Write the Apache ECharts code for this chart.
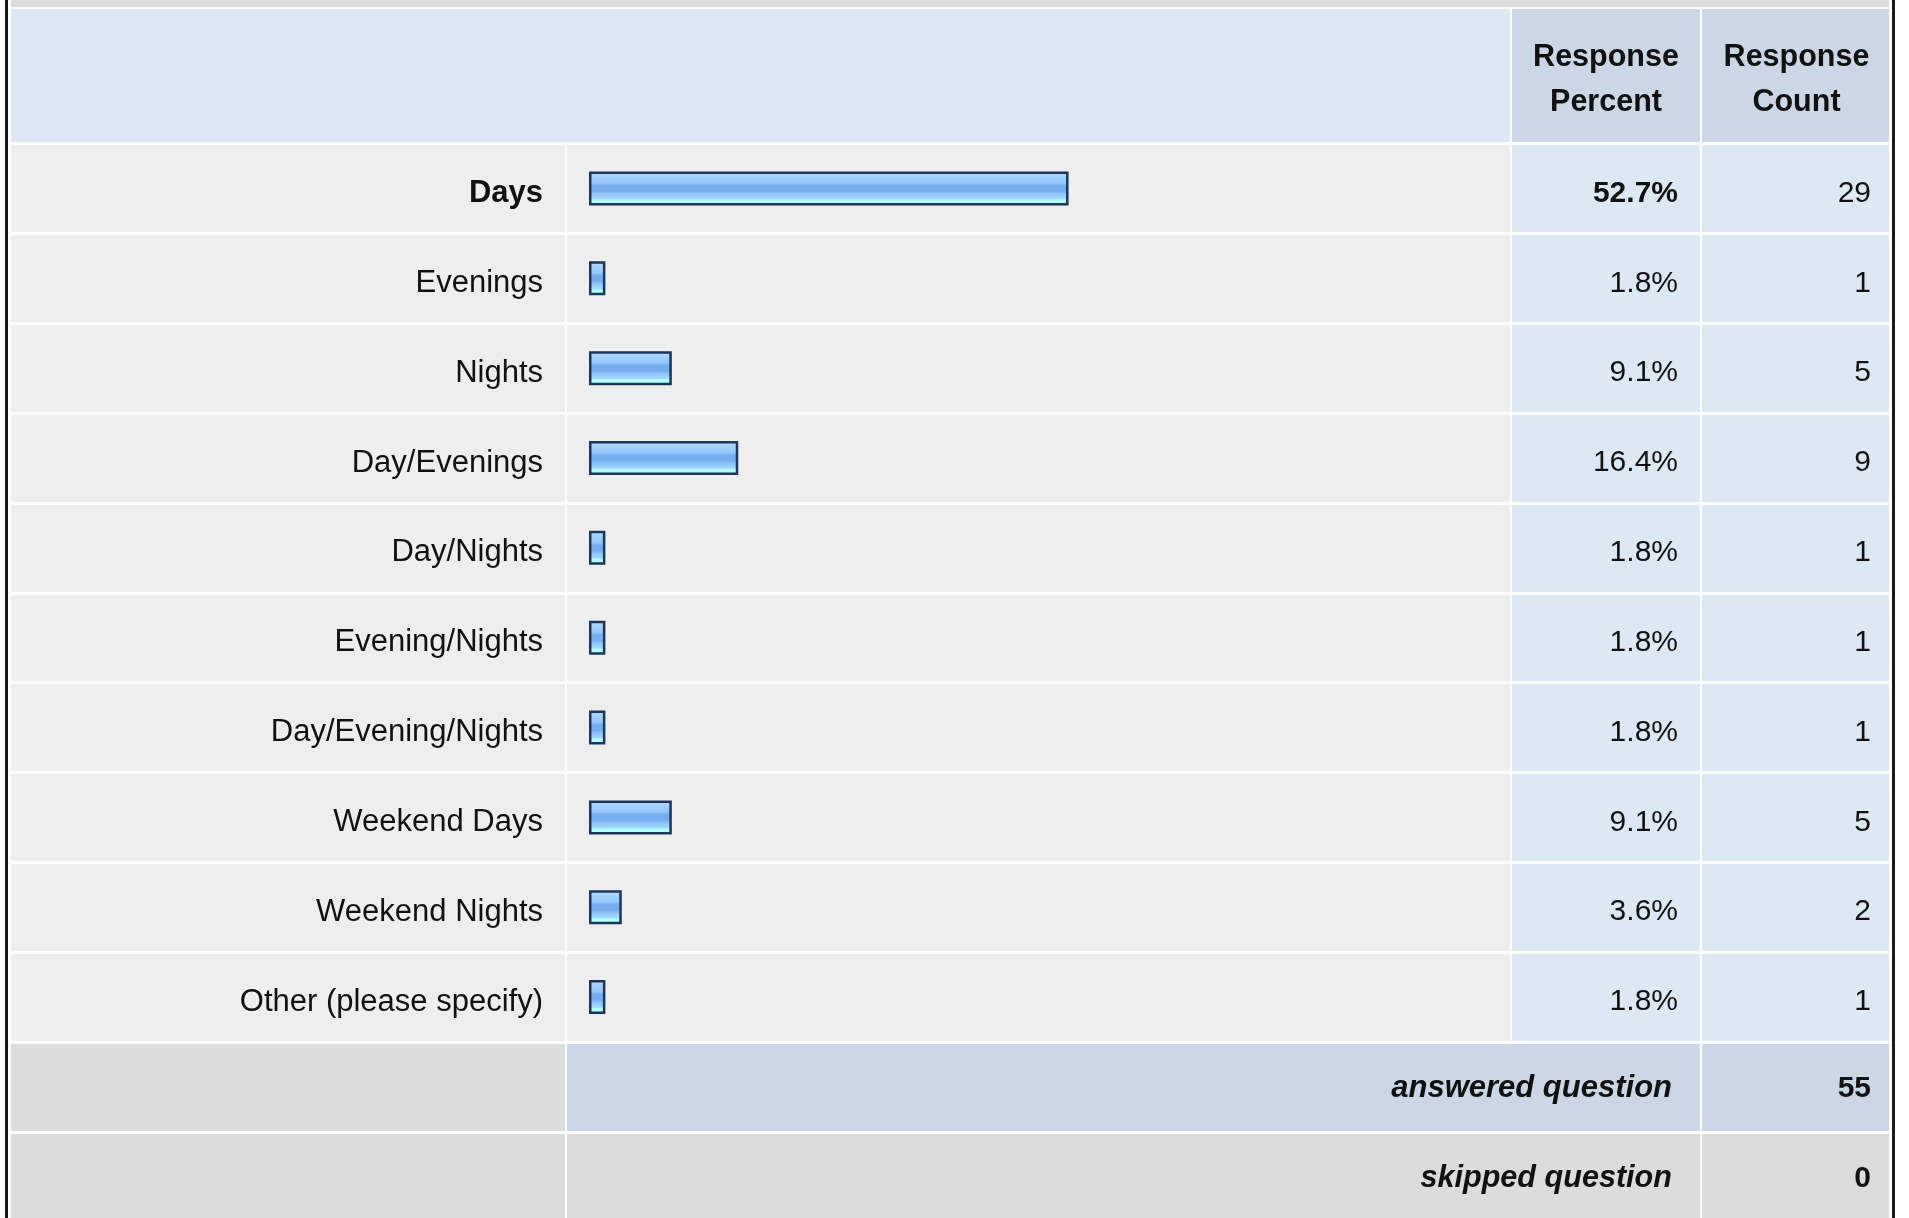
<!DOCTYPE html>
<html>
<head>
<meta charset="utf-8">
<title>Response table</title>
<script src="https://cdn.jsdelivr.net/npm/echarts@6/dist/echarts.min.js"></script>
<style>
    html, body { margin: 0; padding: 0; background: #fff; }
    #main { width: 1909px; height: 1218px; }
</style>
</head>
<body>
<div id="main"></div>
<script>
// answer choices, top to bottom
var categories = ['Days', 'Evenings', 'Nights', 'Day/Evenings', 'Day/Nights', 'Evening/Nights',
    'Day/Evening/Nights', 'Weekend Days', 'Weekend Nights', 'Other (please specify)'];
var percents = [52.7, 1.8, 9.1, 16.4, 1.8, 1.8, 1.8, 9.1, 3.6, 1.8];
var counts = [29, 1, 5, 9, 1, 1, 1, 5, 2, 1];
var headers = ['Response\nPercent', 'Response\nCount'];
var answered = 55;
var skipped = 0;

var FONT = '"Liberation Sans", Arial, sans-serif';
var topIdx = percents.indexOf(Math.max.apply(null, percents)); // bold row

// table layout
var rowTop = 143.5, rowH = 89.85;
var rowsH = rowH * categories.length;
var colL = [11, 567, 1512, 1702];   // left edge of each column
var colR = [565, 1510, 1700, 1889]; // right edge
var pxPerPct = 9.1, barStart = 589;

var myChart = echarts.init(document.getElementById('main'));

function rowAxis(gi) {
    return {
        type: 'category', gridIndex: gi, data: categories, inverse: true, position: 'left',
        axisLine: {show: false}, axisTick: {show: false},
        axisLabel: {show: false},
        splitLine: {show: true, lineStyle: {color: '#ffffff', width: 3}}
    };
}
function richStyles(fs) {
    return {
        n: {fontFamily: FONT, fontSize: fs, color: '#111', fontWeight: 'normal', padding: [10, 0, 0, 0]},
        b: {fontFamily: FONT, fontSize: fs, color: '#111', fontWeight: 'bold', padding: [10, 0, 0, 0]}
    };
}

var grids = [], xAxes = [], yAxes = [];
var gridBg = ['#eeeeee', '#eeeeee', '#dde8f5', '#dde8f5'];
for (var i = 0; i < 4; i++) {
    grids.push({left: colL[i], top: rowTop, width: colR[i] - colL[i], height: rowsH,
        show: true, backgroundColor: gridBg[i], borderWidth: 0});
    xAxes.push({type: 'value', gridIndex: i, show: false, min: 0, max: 100});
    yAxes.push(rowAxis(i));
}
// bar column: value 0 sits at barStart
xAxes[1].min = -(barStart - colL[1]) / pxPerPct;
xAxes[1].max = xAxes[1].min + (colR[1] - colL[1]) / pxPerPct;

// choice names to the left of the bar column
yAxes[1].axisLabel = {
    show: true, margin: 24, rich: richStyles(31),
    formatter: function (v, idx) { return (idx === topIdx ? '{b|' : '{n|') + v + '}'; }
};
// percent column
yAxes[2].position = 'right';
yAxes[2].axisLabel = {
    show: true, inside: true, margin: 22, rich: richStyles(30),
    formatter: function (v, idx) {
        return (idx === topIdx ? '{b|' : '{n|') + percents[idx].toFixed(1) + '%}';
    }
};
// count column
yAxes[3].position = 'right';
yAxes[3].axisLabel = {
    show: true, inside: true, margin: 18, rich: richStyles(30),
    formatter: function (v, idx) { return '{n|' + counts[idx] + '}'; }
};

var footTop = rowTop + rowsH + 2;
var footH = 87;
function rect(x1, y1, x2, y2, fill) {
    return {type: 'rect', silent: true, shape: {x: x1, y: y1, width: x2 - x1, height: y2 - y1}, style: {fill: fill}};
}
function txt(x, y, s, align, fw, fs, st) {
    return {type: 'text', silent: true, x: x, y: y,
        style: {text: s, align: align, verticalAlign: 'middle', fill: '#111',
            font: (st || '') + ' ' + fw + ' ' + fs + 'px ' + FONT, lineHeight: 45}};
}

var graphics = [
    // top strip and frame
    rect(colL[0], 0, colR[3], 7, '#dcdcdc'),
    rect(5, 0, 8, 1218, '#1a1a1a'),
    rect(1892, 0, 1895, 1218, '#1a1a1a'),
    // header
    rect(colL[0], 9, colR[1], 142, '#dde8f5'),
    rect(colL[2], 9, colR[2], 142, '#cbd7e6'),
    rect(colL[3], 9, colR[3], 142, '#cbd7e6'),
    txt((colL[2] + colR[2]) / 2, 80, headers[0], 'center', 'bold', 30.5),
    txt((colL[3] + colR[3]) / 2 + 1, 80, headers[1], 'center', 'bold', 30.5),
    // answered row
    rect(colL[0], footTop, colR[0], footTop + footH, '#dcdcdc'),
    rect(colL[1], footTop, colR[2], footTop + footH, '#cbd7e6'),
    rect(colL[3], footTop, colR[3], footTop + footH, '#cbd7e6'),
    txt(1672, footTop + footH / 2 + 1, 'answered question', 'right', 'bold', 31, 'italic'),
    txt(1871, footTop + footH / 2 + 1, String(answered), 'right', 'bold', 30),
    // skipped row
    rect(colL[0], footTop + footH + 3, colR[0], 1218, '#dcdcdc'),
    rect(colL[1], footTop + footH + 3, colR[2], 1218, '#dcdcdc'),
    rect(colL[3], footTop + footH + 3, colR[3], 1218, '#dcdcdc'),
    txt(1672, footTop + footH + 3 + 45, 'skipped question', 'right', 'bold', 30.6, 'italic'),
    txt(1871, footTop + footH + 3 + 45, String(skipped), 'right', 'bold', 30)
];

myChart.setOption({
    backgroundColor: '#ffffff',
    animation: false,
    grid: grids,
    xAxis: xAxes,
    yAxis: yAxes,
    graphic: graphics,
    series: [{
        name: 'Response Percent',
        type: 'bar',
        xAxisIndex: 1,
        yAxisIndex: 1,
        data: percents,
        barWidth: 34,
        silent: true,
        itemStyle: {
            borderColor: '#1c355b',
            borderWidth: 2.5,
            color: {
                type: 'linear', x: 0, y: 0, x2: 0, y2: 1,
                colorStops: [
                    {offset: 0, color: '#cfeaff'},
                    {offset: 0.1, color: '#a8d6ff'},
                    {offset: 0.35, color: '#93c5fb'},
                    {offset: 0.42, color: '#76acf0'},
                    {offset: 0.58, color: '#76acf0'},
                    {offset: 0.66, color: '#90c3fa'},
                    {offset: 0.8, color: '#a2d8ff'},
                    {offset: 0.84, color: '#b2ffff'},
                    {offset: 1, color: '#b2ffff'}
                ]
            }
        }
    }]
});
window.onresize = myChart.resize;
</script>
</body>
</html>
